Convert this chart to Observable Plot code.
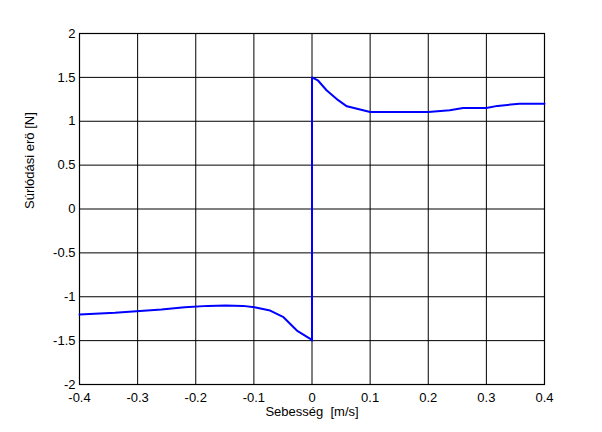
<!DOCTYPE html>
<html><head><meta charset="utf-8">
<script src="https://cdn.jsdelivr.net/npm/d3@7"></script>
<script src="https://cdn.jsdelivr.net/npm/@observablehq/plot@0.6"></script>
<style>body{margin:0;background:#fff}</style>
</head><body><div id="chart"></div>
<script>
const velocity = [-0.4, -0.339, -0.259, -0.219, -0.179, -0.149, -0.119, -0.099, -0.072, -0.049, -0.026, -0.003, 0, 0, 0.01, 0.025, 0.045, 0.06, 0.088, 0.1, 0.2, 0.237, 0.26, 0.3, 0.319, 0.357, 0.4];
const force = [-1.202, -1.183, -1.146, -1.12, -1.104, -1.1, -1.104, -1.12, -1.157, -1.233, -1.385, -1.48, -1.5, 1.5, 1.467, 1.353, 1.24, 1.17, 1.125, 1.106, 1.106, 1.125, 1.15, 1.15, 1.175, 1.2, 1.2];
const xTicks = [-0.4, -0.3, -0.2, -0.1, 0, 0.1, 0.2, 0.3, 0.4];
const yTicks = [-2, -1.5, -1, -0.5, 0, 0.5, 1, 1.5, 2];
const data = velocity.map((v, i) => ({v, f: force[i]}));
const fmt = d => d === 0 ? "0" : String(d);
const chart = Plot.plot({
  width: 602, height: 432,
  marginLeft: 79, marginRight: 58, marginTop: 33, marginBottom: 48,
  style: {fontFamily: "Arial, 'Liberation Sans', sans-serif", fontSize: "13px", color: "#000", background: "#fff"},
  x: {domain: [-0.4, 0.4], ticks: xTicks, tickFormat: fmt, label: null},
  y: {domain: [-2, 2], ticks: yTicks, tickFormat: fmt, label: null},
  marks: [
    Plot.gridX(xTicks, {stroke: "#000", strokeOpacity: 1, strokeWidth: 1}),
    Plot.gridY(yTicks, {stroke: "#000", strokeOpacity: 1, strokeWidth: 1}),
    Plot.frame({stroke: "#000", strokeWidth: 1.2}),
    Plot.axisX(xTicks, {tickSize: 0, tickPadding: 8, tickFormat: fmt, label: null, fontSize: 13}),
    Plot.axisY(yTicks, {tickSize: 0, tickPadding: 4, tickFormat: fmt, label: null, fontSize: 13}),
    Plot.line(data, {x: "v", y: "f", stroke: "#0000ff", strokeWidth: 2}),
    Plot.text(["Sebesség  [m/s]"], {frameAnchor: "bottom", dy: 31, fontSize: 13}),
    Plot.text(["Súrlódási erö [N]"], {frameAnchor: "left", dx: -50, rotate: -90, fontSize: 13})
  ]
});
document.getElementById("chart").appendChild(chart);
</script></body></html>
